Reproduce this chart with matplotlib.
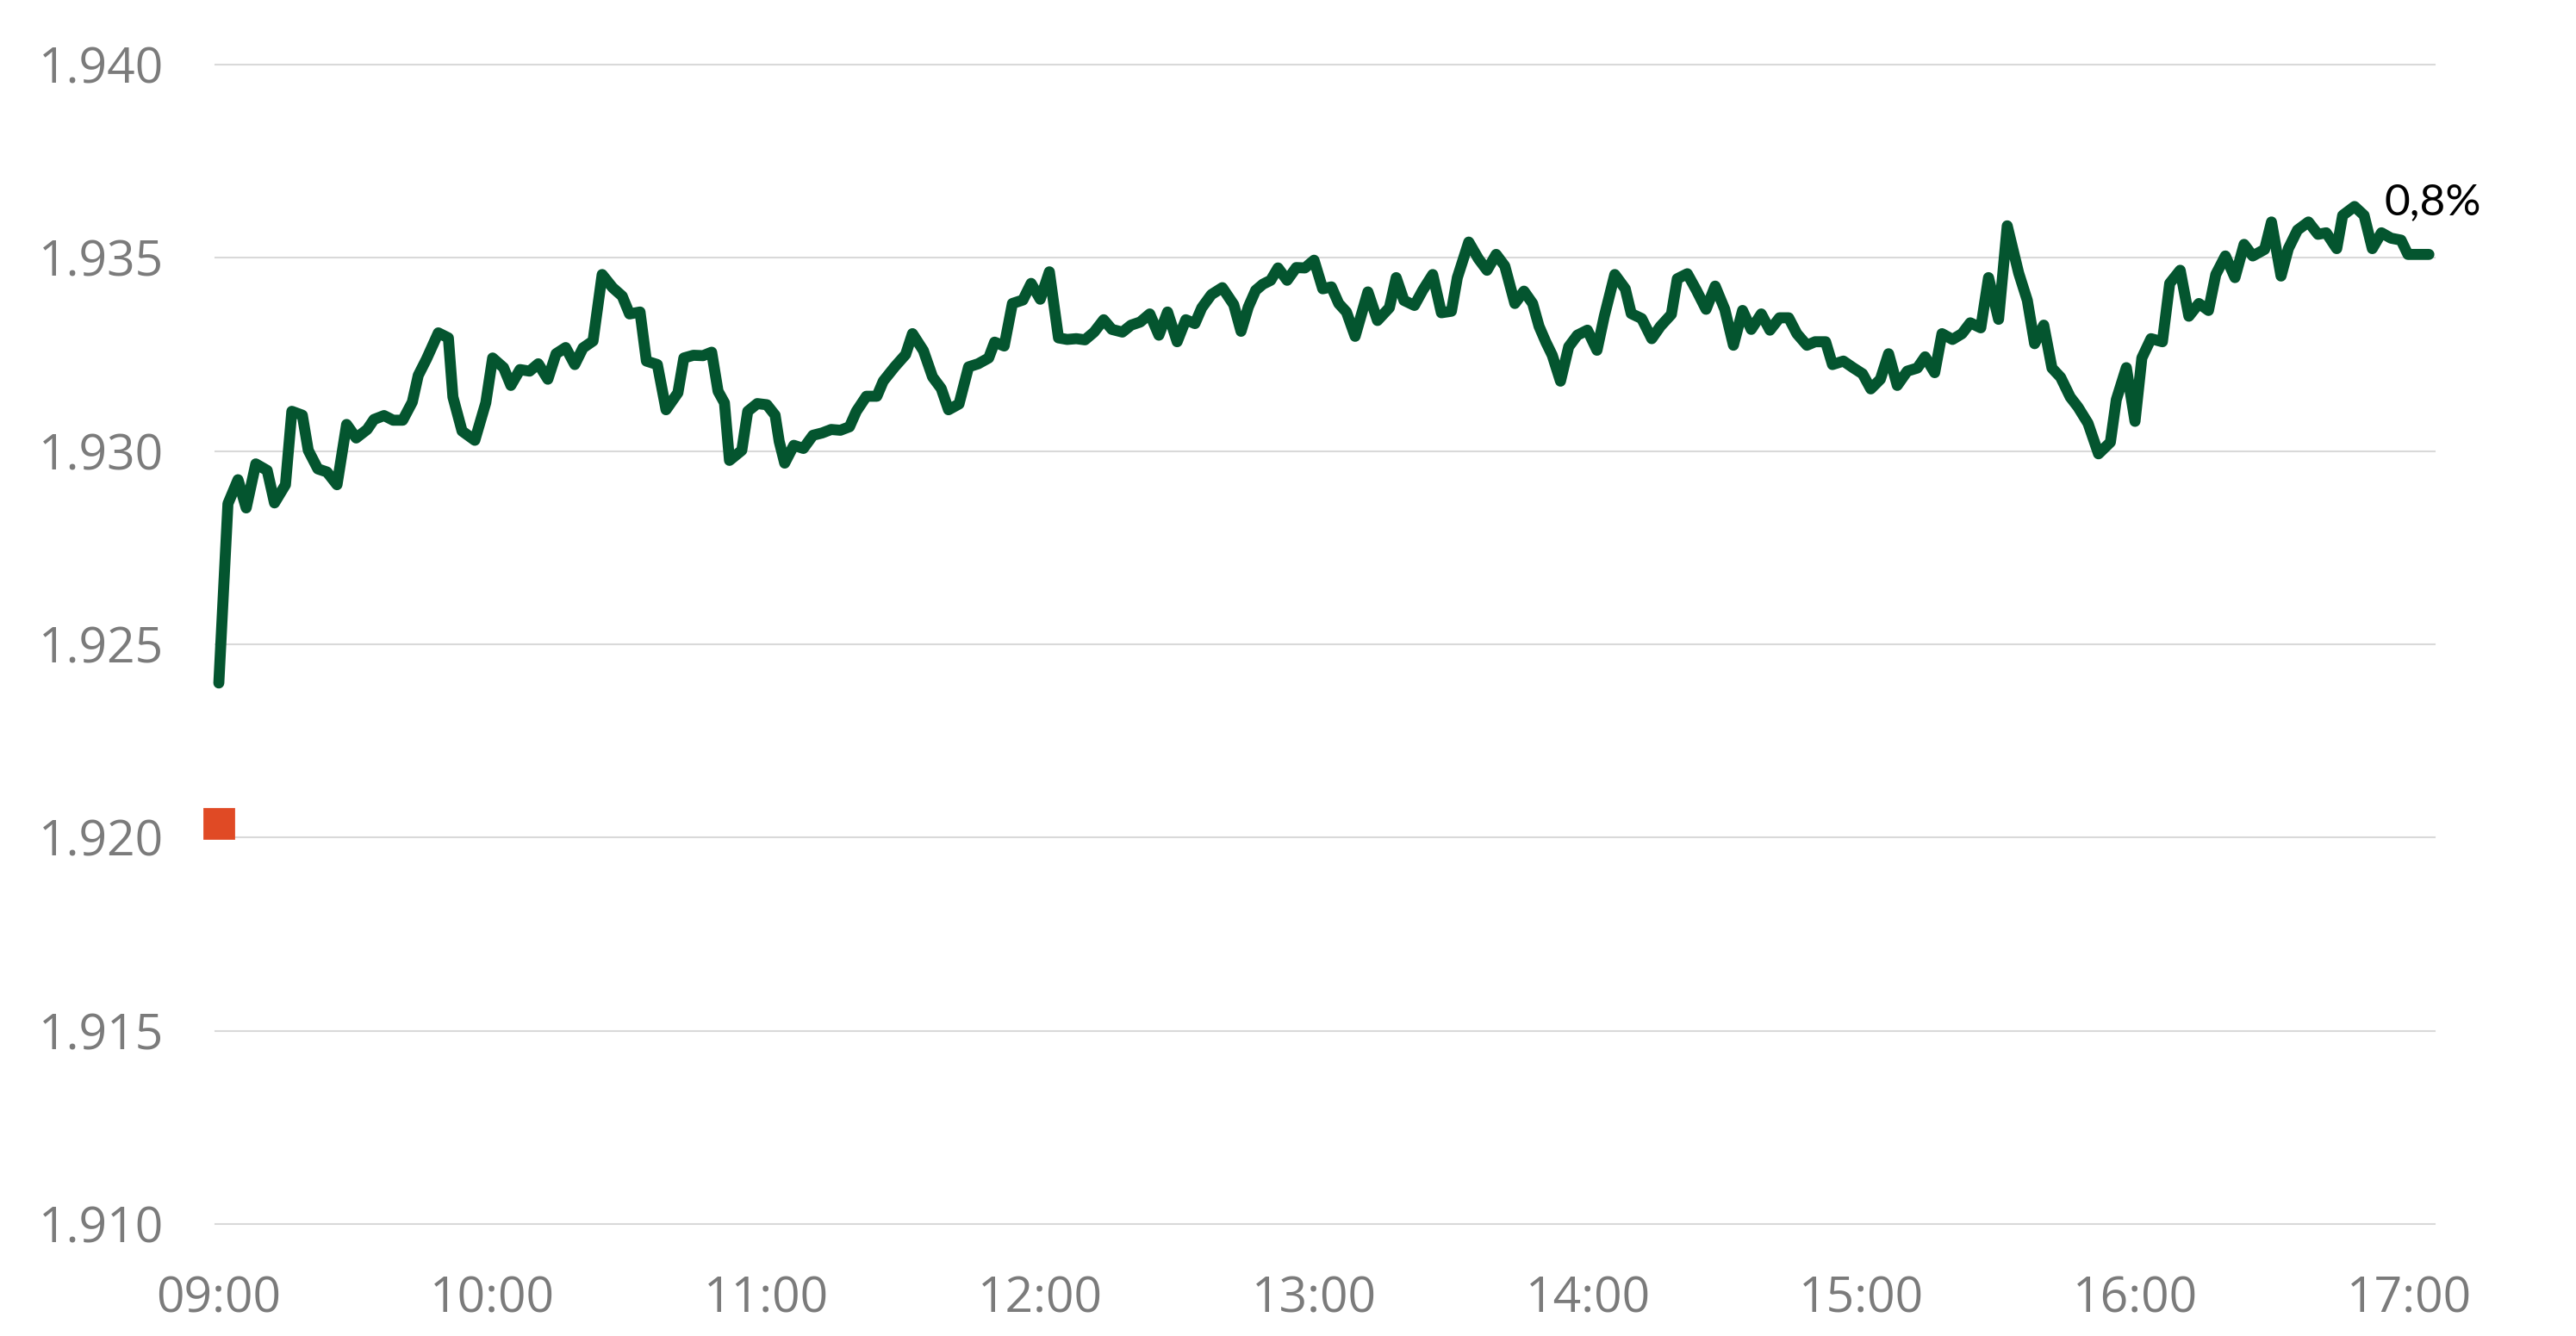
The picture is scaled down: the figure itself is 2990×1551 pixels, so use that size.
"""Intraday line chart: price from 09:00 to close, with previous close marker."""

import matplotlib

matplotlib.use("Agg")
import matplotlib.pyplot as plt
from matplotlib.ticker import FixedLocator, FuncFormatter

# minutes after 09:00 and the traced price at each vertex
minutes = [
    0, 2.0, 4.2, 6.0, 8.1, 10.6, 12.2, 14.6, 16.0, 18.3, 19.6, 21.7, 23.7, 25.9,
    28.0, 30.1, 32.5, 34.0, 36.2, 38.2, 40.3, 42.4, 43.7, 45.5, 48.1, 50.3, 51.3,
    53.3, 56.1, 58.5, 60.0, 62.4, 64.0, 66.0, 68.1, 70.0, 72.1, 73.9, 76.0, 78.0,
    79.8, 82.0, 84.0, 86.3, 88.4, 90.0, 92.3, 93.7, 96.1, 98.0,
    100.6, 101.9, 104.0, 106.1, 108.0, 109.4, 110.8, 111.9, 114.6, 115.9, 118.0,
    120.1, 121.9, 122.8, 124.0, 126.0, 128.1, 130.2, 132.2, 134.2, 136.2, 138.2,
    139.7, 141.9, 144.2, 145.6, 148.1, 150.5, 152.0, 154.4, 156.4, 158.3, 159.9,
    162.2, 164.3, 166.4, 168.7, 170.0, 172.1, 173.9, 176.2, 178.0, 180.0, 182.0,
    184.0, 185.9, 187.9, 189.8, 191.8, 193.9, 195.7,
    198.0, 199.9, 201.9, 204.0, 206.0, 207.9, 210.0, 211.9, 213.9, 215.4, 217.5,
    219.9, 222.4, 224.0, 225.6, 227.2, 228.8, 230.5, 232.1, 234.1, 236.1, 238.0,
    240.0, 241.9, 243.8, 245.4, 247.1, 249.0, 251.8, 253.9, 256.5, 258.0, 259.7,
    262.0, 263.8, 266.0, 267.9, 270.1, 271.4, 273.9, 276.0, 277.9, 279.9, 281.8,
    284.0, 286.0, 287.9, 289.3, 290.8, 292.2, 294.0,
    295.8, 297.7, 299.9, 302.0, 303.6, 305.9, 308.2, 309.5, 311.8, 314.0, 315.9,
    318.3, 319.6, 321.8, 323.8, 325.9, 327.9, 330.0, 331.9, 333.9, 335.8, 338.0,
    339.9, 342.0, 344.0, 345.8, 348.0, 349.8, 352.1, 353.6, 356.0, 358.1, 360.2,
    362.0, 364.1, 365.9, 367.8, 370.0, 372.2, 373.9, 376.0, 377.6, 379.9, 382.0,
    383.8, 386.1, 387.8, 390.0,
    391.9, 394.4, 396.3, 397.9, 399.9, 401.7, 403.6, 405.7, 407.4, 409.6, 411.9,
    414.5, 415.8, 418.0, 419.9, 421.4, 423.4, 425.9, 427.5, 429.8, 431.7, 433.9,
    436.0, 437.6, 439.7, 441.8, 443.8, 445.7, 448.3, 449.8, 451.9, 453.5, 455.5,
    457.9, 460.0, 461.8, 464.1, 465.4, 468.0, 470.1, 471.9, 473.9, 476.0, 478.2,
    479.7, 484.3,
]
price = [
    1.92400, 1.92864, 1.92926, 1.92853, 1.92967, 1.92950, 1.92866, 1.92913, 1.93103,
    1.93093, 1.93002, 1.92954, 1.92946, 1.92913, 1.93069, 1.93034, 1.93056, 1.93082,
    1.93092, 1.93080, 1.93080, 1.93127, 1.93196, 1.93238, 1.93306, 1.93293, 1.93140,
    1.93052, 1.93028, 1.93125, 1.93241, 1.93216, 1.93170, 1.93211, 1.93207, 1.93226,
    1.93186, 1.93252, 1.93268, 1.93224, 1.93267, 1.93285, 1.93457, 1.93423, 1.93401,
    1.93355, 1.93360, 1.93233, 1.93224, 1.93107,
    1.93151, 1.93241, 1.93248, 1.93247, 1.93256, 1.93155, 1.93125, 1.92976, 1.93002,
    1.93103, 1.93123, 1.93120, 1.93093, 1.93025, 1.92969, 1.93015, 1.93007, 1.93041,
    1.93047, 1.93056, 1.93054, 1.93063, 1.93103, 1.93142, 1.93142, 1.93181, 1.93218,
    1.93250, 1.93304, 1.93260, 1.93192, 1.93162, 1.93107, 1.93122, 1.93218, 1.93226,
    1.93241, 1.93282, 1.93272, 1.93382, 1.93391, 1.93434, 1.93393, 1.93464, 1.93293,
    1.93289, 1.93291, 1.93288, 1.93308, 1.93340, 1.93315,
    1.93308, 1.93326, 1.93334, 1.93355, 1.93300, 1.93360, 1.93283, 1.93340, 1.93330,
    1.93371, 1.93405, 1.93423, 1.93379, 1.93310, 1.93373, 1.93416, 1.93432, 1.93442,
    1.93474, 1.93442, 1.93475, 1.93474, 1.93494, 1.93420, 1.93425, 1.93382, 1.93360,
    1.93297, 1.93412, 1.93338, 1.93371, 1.93449, 1.93390, 1.93377, 1.93416, 1.93457,
    1.93358, 1.93362, 1.93449, 1.93541, 1.93498, 1.93468, 1.93509, 1.93479, 1.93382,
    1.93414, 1.93382, 1.93323, 1.93282, 1.93248, 1.93181,
    1.93270, 1.93300, 1.93313, 1.93261, 1.93349, 1.93457, 1.93420, 1.93356, 1.93343,
    1.93291, 1.93323, 1.93354, 1.93446, 1.93459, 1.93416, 1.93367, 1.93427, 1.93367,
    1.93274, 1.93364, 1.93315, 1.93355, 1.93313, 1.93345, 1.93345, 1.93304, 1.93274,
    1.93283, 1.93283, 1.93224, 1.93233, 1.93216, 1.93200, 1.93161, 1.93186, 1.93252,
    1.93170, 1.93207, 1.93215, 1.93244, 1.93203, 1.93304, 1.93289, 1.93304, 1.93332,
    1.93319, 1.93449, 1.93341,
    1.93583, 1.93461, 1.93390, 1.93278, 1.93326, 1.93215, 1.93191, 1.93140, 1.93114,
    1.93072, 1.92993, 1.93023, 1.93133, 1.93216, 1.93077, 1.93241, 1.93291, 1.93283,
    1.93434, 1.93468, 1.93349, 1.93382, 1.93364, 1.93457, 1.93505, 1.93449, 1.93535,
    1.93505, 1.93522, 1.93593, 1.93453, 1.93524, 1.93572, 1.93593, 1.93561, 1.93565,
    1.93524, 1.93610, 1.93633, 1.93610, 1.93524, 1.93565, 1.93551, 1.93546, 1.93509,
    1.93509,
]

prev_close = 1.92036
change_label = "0,8%"
hour_ticks = [0, 60, 120, 180, 240, 300, 360, 420, 480]
hour_labels = ["09:00", "10:00", "11:00", "12:00", "13:00", "14:00", "15:00", "16:00", "17:00"]
y_ticks = [1.910, 1.915, 1.920, 1.925, 1.930, 1.935, 1.940]

LINE = "#04552f"
MARKER = "#e04a25"
GRID = "#d9d9d9"
TICK = "#7b7b7b"

fig = plt.figure(figsize=(14.95, 7.755), dpi=200)
ax = fig.add_axes([0.0836, 0.0838, 0.8616, 0.8678])

ax.plot(minutes, price, color=LINE, lw=4.6, solid_joinstyle="round",
        solid_capstyle="round", zorder=3, clip_on=False)
ax.plot([0], [prev_close], marker="s", ms=12.2, color=MARKER, mec=MARKER,
        ls="none", zorder=4, clip_on=False)
ax.text(474.5, 1.93612, change_label, fontsize=18.5, family=["Lato", "DejaVu Sans"],
        color="black", ha="left", va="baseline", zorder=5, clip_on=False)

ax.set_xlim(-0.76, 485.6)
ax.set_ylim(1.910, 1.940)
ax.yaxis.set_major_locator(FixedLocator(y_ticks))
ax.yaxis.set_major_formatter(FuncFormatter(lambda v, _: f"{v:.3f}"))
ax.set_xticks(hour_ticks)
ax.set_xticklabels(hour_labels)

ax.grid(axis="y", color=GRID, lw=0.75, zorder=0)
ax.grid(axis="x", visible=False)
for gl in ax.get_ygridlines():
    gl.set_clip_on(False)
for side in ax.spines.values():
    side.set_visible(False)
ax.tick_params(axis="both", length=0, labelsize=20.5, labelcolor=TICK, pad=21.5)
for lab in ax.get_xticklabels() + ax.get_yticklabels():
    lab.set_family(["Open Sans", "DejaVu Sans"])
ax.set_axisbelow(True)

fig.savefig("out.png", dpi=200, facecolor="white")
plt.close(fig)
